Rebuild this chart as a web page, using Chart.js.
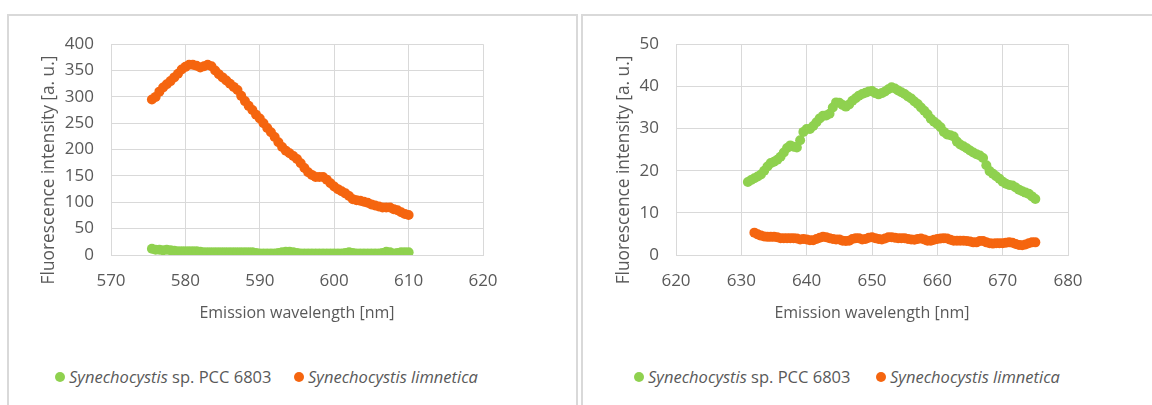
<!DOCTYPE html>
<html>
<head>
<meta charset="utf-8">
<script src="https://cdn.jsdelivr.net/npm/chart.js@4.4.1/dist/chart.umd.min.js"></script>
<style>
  html, body { margin: 0; padding: 0; }
  body { width: 1152px; height: 405px; background: #fff; overflow: hidden; position: relative;
         font-family: "Open Sans", "DejaVu Sans", sans-serif; color: #595959; }
  .panel { position: absolute; top: 14px; height: 420px; border: 2px solid #d9d9d9; box-sizing: border-box; }
  #panelA { left: 7px; width: 571px; }
  #panelB { left: 581px; width: 600px; }
  canvas { position: absolute; top: 17px; }
  #chartA { left: 10px; }
  #chartB { left: 584px; }
  .ytitle { position: absolute; top: 170px; width: 300px; margin-left: -150px; height: 24px; margin-top: -12px;
            line-height: 24px; text-align: center; font-size: 17.3px; white-space: nowrap;
            transform: rotate(-90deg); }
  .legend-item { position: absolute; top: 366px; height: 22px; line-height: 22px; font-size: 16.5px; white-space: nowrap; }
  .legend-item .dot { position: absolute; left: 0; top: 6px; width: 10px; height: 10px; border-radius: 50%; }
  .legend-item .txt { position: absolute; left: 14px; top: 0; }
</style>
</head>
<body>
<div class="panel" id="panelA"></div>
<div class="panel" id="panelB"></div>
<canvas id="chartA" width="565" height="330"></canvas>
<canvas id="chartB" width="568" height="330"></canvas>

<div class="ytitle" style="left:48px">Fluorescence intensity [a. u.]</div>
<div class="ytitle" style="left:623px">Fluorescence intensity [a. u.]</div>

<div class="legend-item" style="left:55px"><span class="dot" style="background:#8fd14f"></span><span class="txt"><i>Synechocystis</i> sp. PCC 6803</span></div>
<div class="legend-item" style="left:294px"><span class="dot" style="background:#f5650f"></span><span class="txt"><i>Synechocystis limnetica</i></span></div>
<div class="legend-item" style="left:634px"><span class="dot" style="background:#8fd14f"></span><span class="txt"><i>Synechocystis</i> sp. PCC 6803</span></div>
<div class="legend-item" style="left:876px"><span class="dot" style="background:#f5650f"></span><span class="txt"><i>Synechocystis limnetica</i></span></div>

<script>
// ---- Left panel: 575.5–610 nm emission ----
const wavelengthA = [575.5,576,576.5,577,577.5,578,578.5,579,579.5,580,
  580.5,581,581.5,582,582.5,583,583.5,584,584.5,585,
  585.5,586,586.5,587,587.5,588,588.5,589,589.5,590,
  590.5,591,591.5,592,592.5,593,593.5,594,594.5,595,
  595.5,596,596.5,597,597.5,598,598.5,599,599.5,600,
  600.5,601,601.5,602,602.5,603,603.5,604,604.5,605,
  605.5,606,606.5,607,607.5,608,608.5,609,609.5,610];
const pcc6803A = [12,10,10,9,10,9,8,7,7,7,
  7,7,7,6,5,5,5,5,5,5,
  5,5,5,5,5,5,5,5,4,3,
  3,3,3,3,4,5,6,6,5,4,
  3,3,3,3,3,3,3,3,3,3,
  3,3,4,5,4,3,3,3,3,3,
  3,3,4,6,5,3,4,5,5,5];
const limneticaA = [295,300,310,318,324,330,337,344,352,357,
  361,361,359,356,358,361,358,350,343,337,
  331,325,319,313,302,292,283,275,266,259,
  250,241,233,224,214,205,198,193,188,182,
  174,165,157,152,148,148,148,143,136,130,
  125,121,117,112,106,104,103,101,99,96,
  94,92,90,90,90,87,85,81,78,76];
const xTicksA = [570,580,590,600,610,620];
const yTicksA = [0,50,100,150,200,250,300,350,400];

// ---- Right panel: 631–675 nm emission ----
const wavelengthB = [631,631.5,632,632.5,633,633.5,634,634.5,635,
  635.5,636,636.5,637,637.5,638,638.5,639,639.5,640,
  640.5,641,641.5,642,642.5,643,643.5,644,644.5,645,
  645.5,646,646.5,647,647.5,648,648.5,649,649.5,650,
  650.5,651,651.5,652,652.5,653,653.5,654,654.5,655,
  655.5,656,656.5,657,657.5,658,658.5,659,659.5,660,
  660.5,661,661.5,662,662.5,663,663.5,664,664.5,665,
  665.5,666,666.5,667,667.5,668,668.5,669,669.5,670,
  670.5,671,671.5,672,672.5,673,673.5,674,674.5,675];
const pcc6803B = [17.3,17.8,18.2,18.6,19.1,20.0,21.0,21.8,22.1,
  22.6,23.3,24.3,25.4,26.0,25.7,25.5,27.2,29.2,29.9,
  29.9,30.6,31.5,32.4,33.0,33.1,33.5,35.0,36.2,36.1,
  35.6,35.2,35.7,36.6,37.2,37.8,38.2,38.5,38.8,38.9,
  38.4,38.1,38.4,38.8,39.3,39.8,39.5,39.0,38.6,38.2,
  37.6,37.1,36.4,35.8,35.0,34.2,33.4,32.3,31.6,31.0,
  30.3,29.2,28.6,28.4,28.1,26.9,26.2,25.8,25.3,24.8,
  24.3,23.9,23.6,23.0,21.3,19.9,19.3,18.7,18.1,17.4,
  16.9,16.6,16.5,16.0,15.5,15.1,14.8,14.5,13.9,13.3];
const limneticaB = [null,null,5.3,4.9,4.6,4.4,4.3,4.3,4.3,
  4.2,4.0,4.0,4.0,4.0,4.0,3.9,3.7,3.8,3.7,
  3.5,3.5,3.8,4.1,4.3,4.2,4.0,3.8,3.7,3.7,
  3.4,3.3,3.4,3.8,4.0,4.0,3.7,3.8,4.1,4.2,
  4.0,3.8,3.7,3.9,4.2,4.2,4.1,4.0,4.0,4.0,
  3.8,3.7,3.6,3.8,3.9,3.7,3.4,3.4,3.6,3.8,
  3.9,4.0,3.9,3.6,3.4,3.4,3.4,3.4,3.3,3.2,
  3.0,3.0,3.3,3.3,3.0,2.8,2.7,2.8,2.8,2.8,
  2.9,3.0,2.9,2.6,2.4,2.3,2.5,2.8,3.0,3.0];
const xTicksB = [620,630,640,650,660,670,680];
const yTicksB = [0,10,20,30,40,50];

const seriesNames = ['Synechocystis sp. PCC 6803', 'Synechocystis limnetica'];
const GREEN = '#8fd14f';
const ORANGE = '#f5650f';
const TEXT = '#595959';
const GRID = '#d9d9d9';
const FONT = '"Open Sans", "DejaVu Sans", sans-serif';

function points(xs, ys) {
  const out = [];
  xs.forEach((x, i) => { if (ys[i] !== null) out.push({ x: x, y: ys[i] }); });
  return out;
}

function fixedTicks(values) {
  return function (scale) { scale.ticks = values.map(v => ({ value: v })); };
}

function buildChart(id, xs, green, orange, xTicks, yTicks, pad, yAxisWidth) {
  return new Chart(document.getElementById(id), {
    type: 'scatter',
    data: {
      datasets: [
        { label: seriesNames[0], data: points(xs, green), backgroundColor: GREEN,
          pointRadius: 5, pointBorderWidth: 0, borderWidth: 0, pointHoverRadius: 5 },
        { label: seriesNames[1], data: points(xs, orange), backgroundColor: ORANGE,
          pointRadius: 5, pointBorderWidth: 0, borderWidth: 0, pointHoverRadius: 5 }
      ]
    },
    options: {
      responsive: false,
      animation: false,
      devicePixelRatio: 1,
      layout: { padding: pad },
      plugins: { legend: { display: false }, tooltip: { enabled: false } },
      scales: {
        x: {
          type: 'linear',
          min: xTicks[0], max: xTicks[xTicks.length - 1],
          afterBuildTicks: fixedTicks(xTicks),
          afterFit: s => { s.height = 68; },
          grid: { color: GRID, lineWidth: 1, drawTicks: false },
          border: { color: GRID, width: 1 },
          ticks: { color: TEXT, font: { family: FONT, size: 17 }, padding: 16, maxRotation: 0 },
          title: { display: true, text: 'Emission wavelength [nm]', color: TEXT,
                   font: { family: FONT, size: 16 }, padding: 0 }
        },
        y: {
          type: 'linear',
          min: yTicks[0], max: yTicks[yTicks.length - 1],
          afterBuildTicks: fixedTicks(yTicks),
          afterFit: s => { s.width = yAxisWidth; },
          grid: { color: GRID, lineWidth: 1, drawTicks: false },
          border: { color: GRID, width: 1 },
          ticks: { color: TEXT, font: { family: FONT, size: 17 }, padding: 17 }
        }
      }
    }
  });
}

buildChart('chartA', wavelengthA, pcc6803A, limneticaA, xTicksA, yTicksA,
  { left: 28, top: 26, right: 92, bottom: 24 }, 73);
buildChart('chartB', wavelengthB, pcc6803B, limneticaB, xTicksB, yTicksB,
  { left: 29, top: 26, right: 84, bottom: 24 }, 63);
</script>
</body>
</html>
